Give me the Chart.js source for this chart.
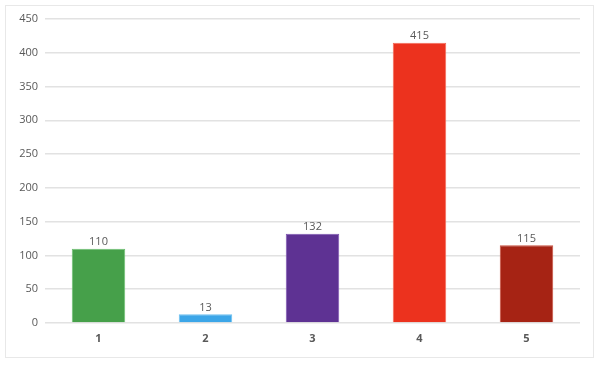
<!DOCTYPE html>
<html>
<head>
<meta charset="utf-8">
<script src="https://cdn.jsdelivr.net/npm/chart.js@4/dist/chart.umd.min.js"></script>
<style>
  html, body { margin: 0; padding: 0; background: #fff; }
  #wrap { position: relative; width: 600px; height: 365px; }
  #frame { position: absolute; left: 5px; top: 5px; width: 587px; height: 351px; border: 1px solid #e8e8e8; pointer-events: none; }
</style>
</head>
<body>
<div id="wrap">
  <canvas id="barChart" width="600" height="365"></canvas>
  <div id="frame"></div>
</div>
<script>
// categories and values
const categories = ['1', '2', '3', '4', '5'];
const values = [110, 13, 132, 415, 115];
const barColors = ['#46a04a', '#3ca6e8', '#5e3293', '#ec321e', '#a62314'];
const barEdges = ['#6cc070', '#6cc0f0', '#7e55b0', '#f56a58', '#c9503f'];
const yTicks = [0, 50, 100, 150, 200, 250, 300, 350, 400, 450];

const fontFamily = "'Open Sans', 'Noto Sans', sans-serif";

// value labels above each bar
const valueLabels = {
    id: 'valueLabels',
    afterDatasetsDraw(chart) {
        const ctx = chart.ctx;
        const meta = chart.getDatasetMeta(0);
        ctx.save();
        ctx.font = '11px ' + fontFamily;
        ctx.fillStyle = '#595959';
        ctx.textAlign = 'center';
        ctx.textBaseline = 'bottom';
        meta.data.forEach((bar, i) => {
            ctx.fillText(values[i], bar.x, bar.y - 1);
        });
        ctx.restore();
    }
};

const ctx = document.getElementById('barChart');
new Chart(ctx, {
    type: 'bar',
    data: {
        labels: categories,
        datasets: [{
            data: values,
            backgroundColor: barColors,
            borderColor: barEdges,
            borderWidth: 1,
            barPercentage: 0.5,
            categoryPercentage: 1.0
        }]
    },
    options: {
        responsive: false,
        animation: false,
        devicePixelRatio: 1,
        layout: { padding: { top: 19, right: 20, bottom: 0, left: 0 } },
        plugins: {
            legend: { display: false },
            tooltip: { enabled: false }
        },
        scales: {
            x: {
                grid: { display: false, drawTicks: false },
                border: { display: false },
                ticks: {
                    padding: 9,
                    color: '#595959',
                    font: { family: fontFamily, size: 11, weight: 'bold' }
                },
                afterFit(scale) { scale.height = 42; }
            },
            y: {
                min: 0,
                max: 450,
                afterBuildTicks(scale) { scale.ticks = yTicks.map(v => ({ value: v })); },
                grid: { color: '#e2e2e2', lineWidth: 1.5, drawTicks: false },
                border: { display: false },
                ticks: {
                    padding: 7,
                    color: '#595959',
                    font: { family: fontFamily, size: 11 }
                },
                afterFit(scale) { scale.width = 45; }
            }
        }
    },
    plugins: [valueLabels]
});
</script>
</body>
</html>
